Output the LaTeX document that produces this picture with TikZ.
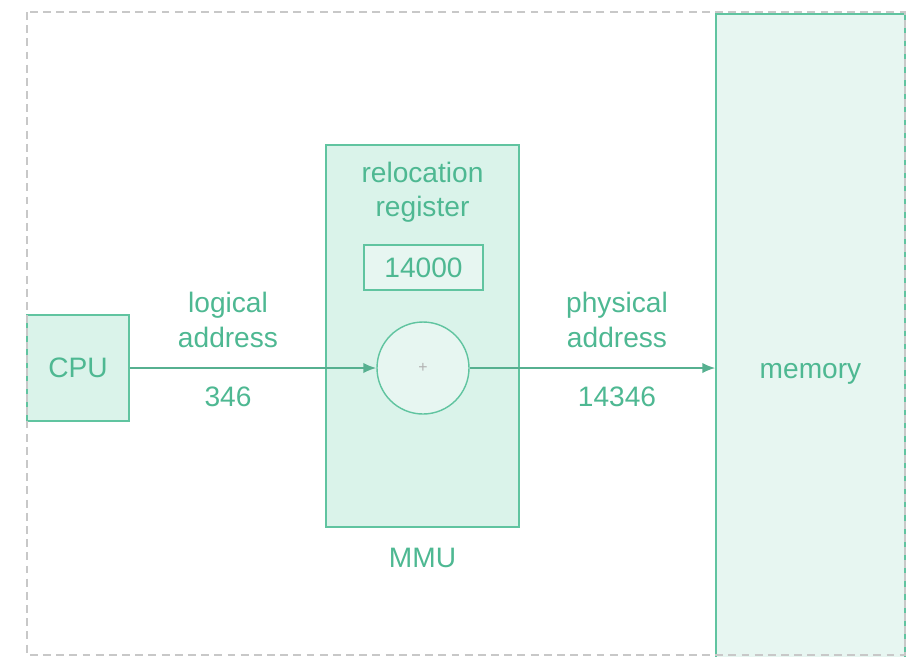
\documentclass[tikz,border=0pt]{standalone}
\usepackage{fontspec}
\setmainfont{Liberation Sans}
\usetikzlibrary{arrows.meta, positioning}
\definecolor{mmuline}{RGB}{96,196,160}
\definecolor{mmutext}{RGB}{78,184,146}
\definecolor{mmufill}{RGB}{218,243,234}
\definecolor{memfill}{RGB}{231,246,241}
\definecolor{frame}{RGB}{200,200,200}

\begin{document}
\begin{tikzpicture}[
    box/.style={draw=mmuline, thick, fill=mmufill, text=mmutext, inner sep=0pt, align=center},
    lbl/.style={text=mmutext, align=center, font=\fontsize{16}{19.5}\selectfont},
    flow/.style={-{Latex[length=2.6mm, width=2.1mm]}, line width=1.1pt, draw=mmuline!90!black}
]
\useasboundingbox (0,0) rectangle (18.22,-13.12);
\clip (0,0) rectangle (18.22,-13.12);

% main blocks
\node[box, minimum width=2.04cm, minimum height=2.12cm, font=\fontsize{16}{19.5}\selectfont] (cpu) at (1.56,-7.36) {CPU};
\node[box, minimum width=3.86cm, minimum height=7.64cm] (mmu) at (8.45,-6.72) {};
\node[box, fill=memfill, minimum width=3.78cm, minimum height=14.4cm, font=\fontsize{16}{19.5}\selectfont] (memory) at (16.21,-7.48) {memory};

% inside the MMU
\node[lbl] (relreg) at (8.45,-3.84) {relocation\\register};
\node[box, fill=memfill, minimum width=2.38cm, minimum height=0.9cm, font=\fontsize{16}{19.5}\selectfont] (base) at (8.47,-5.35) {14000};
\node[box, circle, fill=memfill, minimum size=1.84cm, text=gray!60, font=\small] (adder) at (8.46,-7.36) {+};
\node[lbl] (mmulabel) at (8.45,-11.16) {MMU};

% addresses
\draw[flow] (cpu.east) -- (adder.west);
\draw[flow] (adder.east) -- (adder.east -| memory.west);
\node[lbl] (logaddr) at (4.56,-6.40) {logical\\address};
\node[lbl] (logval)  at (4.56,-7.94) {346};
\node[lbl] (phyaddr) at (12.34,-6.40) {physical\\address};
\node[lbl] (phyval)  at (12.34,-7.94) {14346};

% outer dashed frame, on top
\draw[frame, thick, dash pattern=on 4.5pt off 3pt] (0.54,-0.24) rectangle (18.1,-13.1);

\end{tikzpicture}
\end{document}
